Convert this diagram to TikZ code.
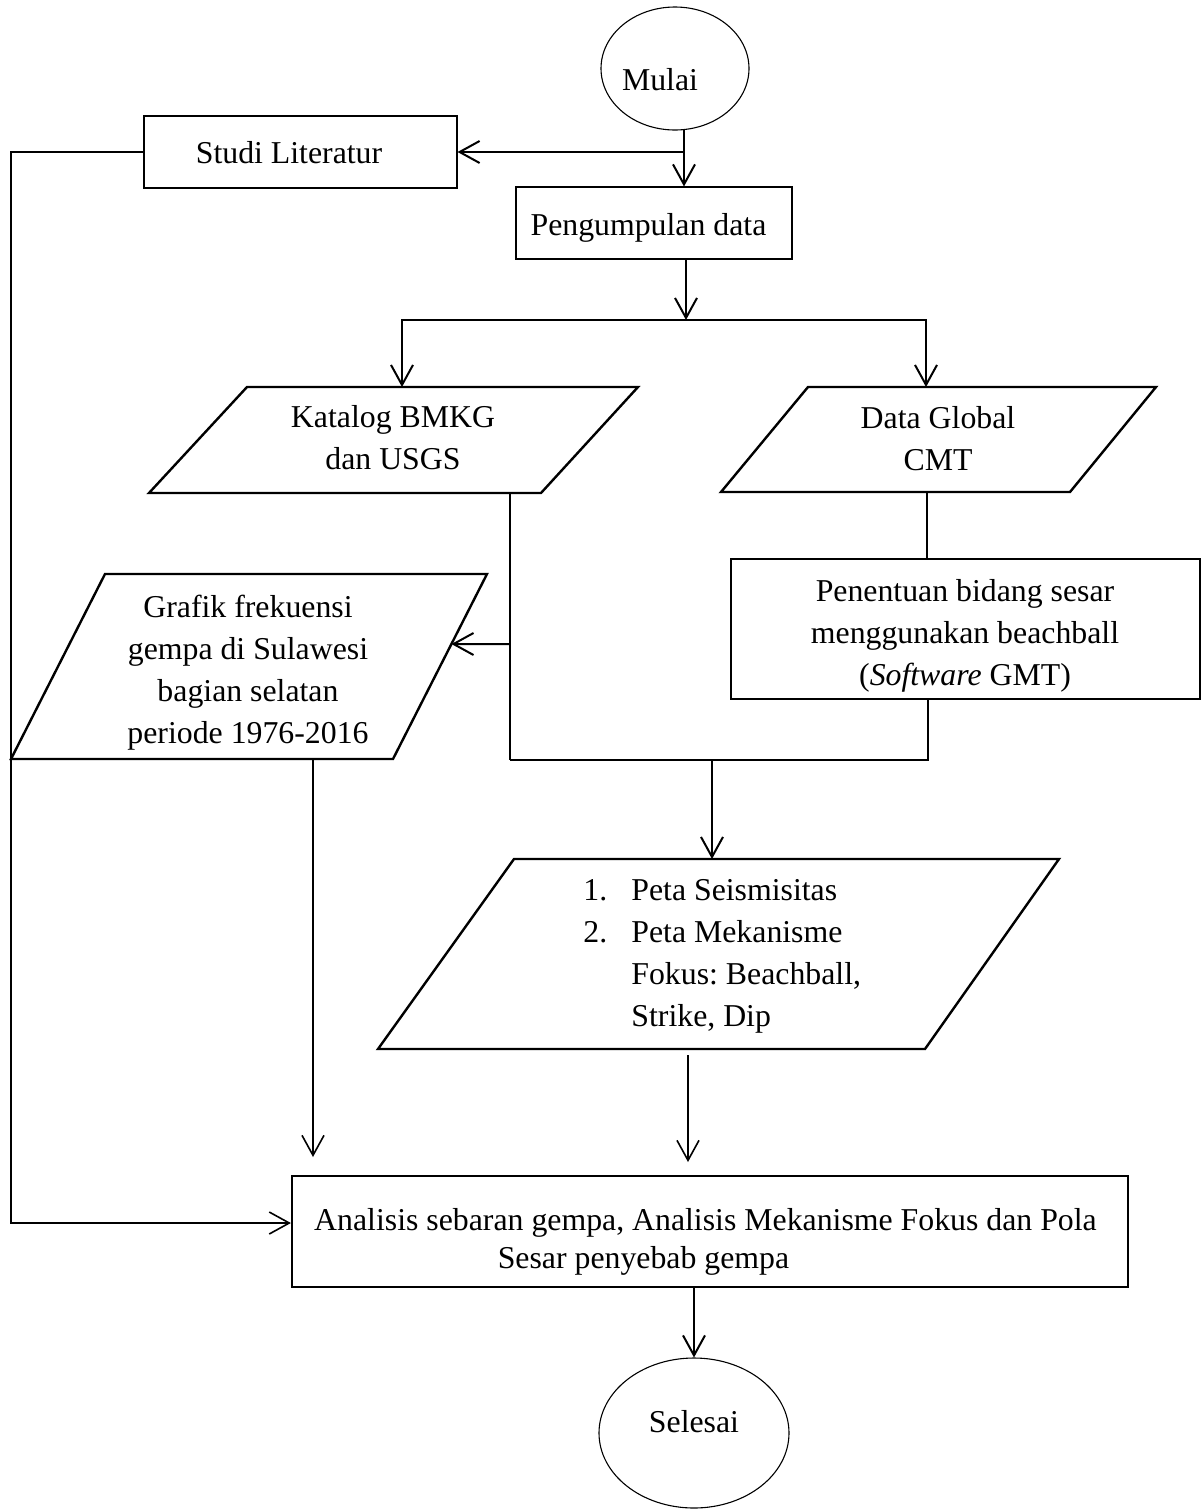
\documentclass[tikz,border=0pt]{standalone}
\usepackage{fontspec}
\setmainfont{Liberation Serif}
\usetikzlibrary{arrows.meta,calc,shapes.geometric}
\frenchspacing
\begin{document}
\begin{tikzpicture}[x=0.5pt,y=-0.5pt,
  txt/.style={font=\fontsize{15.9}{21}\selectfont, inner sep=0pt, align=center},
  thinbox/.style={draw, rectangle, line width=0.55pt, inner sep=0pt},
  thickbox/.style={draw, rectangle, line width=1.1pt, inner sep=0pt},
  oval/.style={draw, ellipse, line width=0.55pt, inner sep=0pt},
  para/.style={draw, line width=1.2pt, line join=miter},
  conn/.style={line width=1pt},
  med/.style={line width=0.8pt},
  fine/.style={line width=0.55pt},
  arr/.style={-{Straight Barb[length=10pt,width=11pt]}},
]
\useasboundingbox (0,0) rectangle (1203,1511);

% box and ellipse shapes
\node[oval, minimum width=74pt, minimum height=61.5pt] (mulai) at (675,68.5) {};
\node[thinbox, minimum width=156.5pt, minimum height=36pt] (studi) at (300.5,152) {};
\node[thinbox, minimum width=138pt, minimum height=36pt] (kumpul) at (654,223) {};
\node[thinbox, minimum width=234.5pt, minimum height=70pt] (tentu) at (965.5,629) {};
\node[thickbox, minimum width=418pt, minimum height=55.5pt] (analisis) at (710,1231.5) {};
\node[oval, minimum width=95pt, minimum height=75pt] (selesai) at (694,1433) {};

% parallelograms
\coordinate (katNW) at (247,387); \coordinate (katNE) at (638,387);
\coordinate (katSE) at (541,493); \coordinate (katSW) at (149,493);
\draw[para] (katNW) -- (katNE) -- (katSE) -- (katSW) -- cycle;
\coordinate (globNW) at (808,387); \coordinate (globNE) at (1156,387);
\coordinate (globSE) at (1070,492); \coordinate (globSW) at (721,492);
\draw[para] (globNW) -- (globNE) -- (globSE) -- (globSW) -- cycle;
\coordinate (grafNW) at (105,574); \coordinate (grafNE) at (487,574);
\coordinate (grafSE) at (393,759); \coordinate (grafSW) at (11,759);
\draw[para] (grafNW) -- (grafNE) -- (grafSE) -- (grafSW) -- cycle;
\coordinate (petaNW) at (514,859); \coordinate (petaNE) at (1059,859);
\coordinate (petaSE) at (925,1049); \coordinate (petaSW) at (378,1049);
\draw[para] (petaNW) -- (petaNE) -- (petaSE) -- (petaSW) -- cycle;

% texts
\node[txt, anchor=base] (mulaitxt) at (660,90) {Mulai};
\node[txt, anchor=base] (studitxt) at (289,163) {Studi Literatur};
\node[txt, anchor=base] (kumpultxt) at (648.5,235) {Pengumpulan data};
\node[txt] (kattxt) at (393,438) {Katalog BMKG\\dan USGS};
\node[txt] (globtxt) at (938,438.5) {Data Global\\CMT};
\node[txt] (graftxt) at (248,672.6) {Grafik frekuensi\\gempa di Sulawesi\\bagian selatan\\periode 1976-2016};
\node[txt] (tentutxt) at (965,635.5) {Penentuan bidang sesar\\menggunakan beachball\\(\textit{Software} GMT)};
\node[txt, anchor=west] (petatxt) at (583,954.6) {\begin{tabular}{@{}l@{}l@{}}
\makebox[24pt][l]{1.} & Peta Seismisitas\\
\makebox[24pt][l]{2.} & Peta Mekanisme\\
 & Fokus: Beachball,\\
 & Strike, Dip
\end{tabular}};
\node[txt, font=\fontsize{15.9}{19}\selectfont] (analisistxt) at (705.5,1241.6) {Analisis sebaran gempa, Analisis Mekanisme Fokus dan Pola\\Sesar penyebab gempa\hspace*{62pt}};
\node[txt, anchor=base] (selesaitxt) at (694,1432) {Selesai};

% connectors
\coordinate (mulaiB) at (684,129.5);
\coordinate (j1) at (684,152);
\coordinate (leftTop) at (11,152);
\draw[conn,arr] (mulaiB) -- (mulaiB |- kumpul.north);
\draw[conn,arr] (j1) -- (studi.east);
\draw[med,arr] (studi.west) -- (leftTop) |- ($(analisis.west)+(0,-8.5)$);

\coordinate (kumpulB) at (686,259);
\coordinate (split) at (686,320);
\draw[conn,arr] (kumpulB) -- (split);
\coordinate (katT) at (402,387);
\coordinate (globT) at (926,387);
\draw[conn,arr] (split) -| (katT);
\draw[conn,arr] (split) -| (globT);

\coordinate (katB) at (510,493);
\coordinate (m1) at (510,760);
\coordinate (kv) at (510,644);
\draw[fine] (katB) -- (m1);
\coordinate (grafE) at ($(grafNE)!0.3784!(grafSE)$);
\draw[conn,arr] (kv) -- (grafE);

\coordinate (globB) at (927,492);
\draw[fine] (globB) -- (globB |- tentu.north);
\coordinate (m2) at (928,760);
\draw[med] (m1) -- (m2) -- (m2 |- tentu.south);
\coordinate (m3) at (712,760);
\coordinate (petaT) at (712,859);
\draw[conn,arr] (m3) -- (petaT);

\coordinate (grafB) at (313,759);
\coordinate (grafA) at (313,1157);
\draw[med,arr] (grafB) -- (grafA);
\coordinate (petaB) at (688,1055);
\coordinate (petaA) at (688,1162);
\draw[med,arr] (petaB) -- (petaA);
\draw[conn,arr] (selesai.north |- analisis.south) -- (selesai.north);
\end{tikzpicture}
\end{document}
